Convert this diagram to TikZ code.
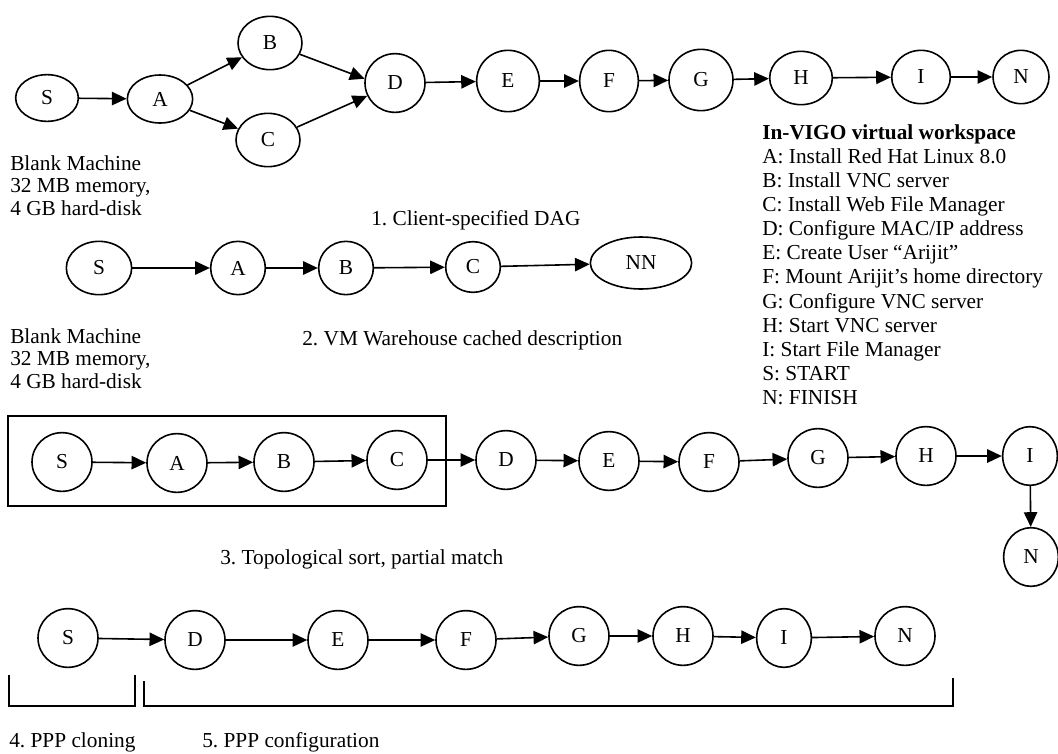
\documentclass[tikz,border=0pt]{standalone}
\usepackage{fontspec}
\setmainfont{Liberation Serif}
\usetikzlibrary{arrows.meta,positioning,shapes.geometric}
\frenchspacing

\begin{document}
\begin{tikzpicture}[
      x=0.75pt, y=-0.75pt,
      font=\fontsize{16}{18.1}\selectfont,
      >={Triangle[length=11pt,width=10pt]},
      arr/.style={->, line width=1.2pt},
      task/.style={draw,ellipse,line width=1.2pt,inner sep=0pt,minimum width=45pt,minimum height=44pt},
      flat/.style={minimum width=47pt,minimum height=35pt},
      note/.style={align=left,anchor=north west,inner sep=0pt},
      blank/.style={note,font=\fontsize{16}{17}\selectfont},
      caption/.style={anchor=west,inner sep=0pt},
      bracket/.style={line width=1.2pt}
    ]
    \useasboundingbox (0,0) rectangle (1058,754);

    % 1. Client-specified DAG
    \node (s1) [task,flat]                                   at (47,98)   {S};
    \node (a1) [task,flat,minimum width=49pt,minimum height=36pt] at (160,99)  {A};
    \node (b1) [task,minimum width=48pt,minimum height=40pt] at (270,43)  {B};
    \node (c1) [task,minimum width=48pt,minimum height=40pt] at (268,140) {C};
    \node (d1) [task]                                        at (395,83)  {D};
    \node (e1) [task,minimum width=47pt,minimum height=46pt] at (508,81)  {E};
    \node (f1) [task,minimum width=44pt,minimum height=46pt] at (609,81)  {F};
    \node (g1) [task,minimum width=48pt,minimum height=46pt] at (701,80)  {G};
    \node (h1) [task,minimum width=47pt,minimum height=40pt] at (801,78)  {H};
    \node (i1) [task,minimum width=44pt,minimum height=40pt] at (921,77)  {I};
    \node (n1) [task,minimum width=42pt,minimum height=40pt] at (1021,77) {N};

    % Arrows DAG
    \draw[arr] (s1) -- (a1);
    \draw[arr] (a1) -- (b1);
    \draw[arr] (a1) -- (c1);
    \draw[arr] (b1) -- (d1.172);
    \draw[arr] (c1) -- (d1.205);
    \draw[arr] (d1) -- (e1);
    \draw[arr] (e1) -- (f1);
    \draw[arr] (f1) -- (g1);
    \draw[arr] (g1) -- (h1);
    \draw[arr] (h1) -- (i1);
    \draw[arr] (i1) -- (n1);

    \node (blank1) [blank] at (10,155) {Blank Machine\\32 MB memory,\\4 GB hard-disk};
    \node (cap1) [caption] at (371,220) {1. Client-specified DAG};

    % 2. VM Warehouse cached description
    \node (s2)  [task,minimum width=49pt,minimum height=40pt] at (99,268)  {S};
    \node (a2)  [task,minimum width=41pt,minimum height=40pt] at (238,268) {A};
    \node (b2)  [task,minimum width=41pt,minimum height=40pt] at (346,268) {B};
    \node (c2)  [task,minimum width=41pt,minimum height=38pt] at (473,267) {C};
    \node (nn2) [task,minimum width=76pt,minimum height=39pt] at (641,263) {NN};

    \draw[arr] (s2) -- (a2);
    \draw[arr] (a2) -- (b2);
    \draw[arr] (b2) -- (c2);
    \draw[arr] (c2) -- (nn2);

    \node (blank2) [blank] at (10,328) {Blank Machine\\32 MB memory,\\4 GB hard-disk};
    \node (cap2) [caption] at (302,340) {2. VM Warehouse cached description};

    % Legend
    \node (legend) [note] at (762,124) {\textbf{In-VIGO virtual workspace}\\
      A: Install Red Hat Linux 8.0\\
      B: Install VNC server\\
      C: Install Web File Manager\\
      D: Configure MAC/IP address\\
      E: Create User “Arijit”\\
      F: Mount Arijit’s home directory\\
      G: Configure VNC server\\
      H: Start VNC server\\
      I: Start File Manager\\
      S: START\\
      N: FINISH};

    % 3. Topological sort, partial match
    \node (s3) [task] at (62,462)   {S};
    \node (a3) [task] at (177,463)  {A};
    \node (b3) [task] at (284,462)  {B};
    \node (c3) [task] at (397,460)  {C};
    \node (d3) [task] at (506,460)  {D};
    \node (e3) [task] at (609,461)  {E};
    \node (f3) [task] at (709,462)  {F};
    \node (g3) [task] at (818,458)  {G};
    \node (h3) [task] at (926,456)  {H};
    \node (i3) [task,minimum width=41pt] at (1030,456) {I};
    \node (n3) [task,minimum width=41pt] at (1031,557) {N};

    \draw[line width=1.2pt] (8,416) rectangle (446,506);

    \draw[arr] (s3) -- (a3);
    \draw[arr] (a3) -- (b3);
    \draw[arr] (b3) -- (c3);
    \draw[arr] (c3) -- (d3);
    \draw[arr] (d3) -- (e3);
    \draw[arr] (e3) -- (f3);
    \draw[arr] (f3) -- (g3);
    \draw[arr] (g3) -- (h3);
    \draw[arr] (h3) -- (i3);
    \draw[arr] (i3) -- (n3);

    \node (cap3) [caption] at (220,559) {3. Topological sort, partial match};

    % 4./5. PPP cloning and configuration
    \node (s4) [task] at (68,638)  {S};
    \node (d4) [task] at (195,640) {D};
    \node (e4) [task] at (338,640) {E};
    \node (f4) [task] at (466,640) {F};
    \node (g4) [task] at (579,636) {G};
    \node (h4) [task] at (683,636) {H};
    \node (i4) [task,minimum width=41pt] at (784,638) {I};
    \node (n4) [task] at (905,636) {N};

    \draw[arr] (s4) -- (d4);
    \draw[arr] (d4) -- (e4);
    \draw[arr] (e4) -- (f4);
    \draw[arr] (f4) -- (g4);
    \draw[arr] (g4) -- (h4);
    \draw[arr] (h4) -- (i4);
    \draw[arr] (i4) -- (n4);

    \draw[bracket] (9,675) -- (9,706) -- (135,706) -- (135,675);
    \draw[bracket] (144,681) -- (144,706) -- (953,706) -- (953,678);

    \node (cap4) [caption] at (9,742)   {4. PPP cloning};
    \node (cap5) [caption] at (202,742) {5. PPP configuration};
  \end{tikzpicture}
\end{document}
